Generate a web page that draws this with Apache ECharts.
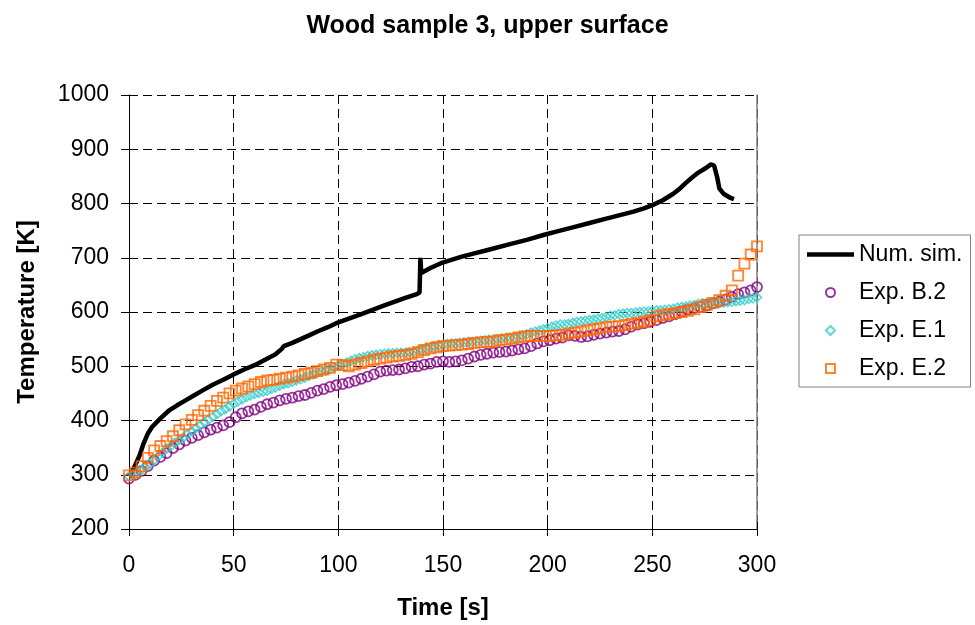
<!DOCTYPE html>
<html>
<head>
<meta charset="utf-8">
<script src="https://cdn.jsdelivr.net/npm/echarts@6/dist/echarts.min.js"></script>
<style>
  html, body { margin: 0; padding: 0; background: #fff; }
  #chart { width: 975px; height: 625px; }
</style>
</head>
<body>
<div id="chart"></div>
<script>
// tick settings
const xTicks = { min: 0, max: 300, interval: 50 };
const yTicks = { min: 200, max: 1000, interval: 100 };

const seriesNames = ['Num. sim.', 'Exp. B.2', 'Exp. E.1', 'Exp. E.2'];

// numerical simulation
const simTime = [0, 1.5, 3, 5, 7, 9, 11, 15, 19, 23, 27, 31, 35, 40, 45, 50, 55, 60, 65, 70,
  73, 74, 78, 82, 86, 90, 95, 100, 105, 111, 117, 122, 127, 132, 137.5, 138.8, 139.2, 139.6,
  144, 149, 154, 159, 165, 170, 175, 182, 190, 198, 205, 212, 220, 228, 235, 241, 246, 250,
  255, 260, 263, 266, 269, 272, 275, 278, 279.5, 281, 282, 284, 287, 289];
const simTemp = [297, 305, 318, 335, 358, 376, 388, 404, 418, 428, 437, 446, 455, 466, 475, 485, 494, 502, 512, 522,
  532, 537, 543, 550, 557, 564, 572, 581, 588, 596, 605, 612, 619, 626, 633, 636, 700, 672,
  681, 690, 696, 702, 708, 713, 718, 725, 733, 742, 749, 756, 764, 772, 779, 785, 791, 797,
  806, 818, 827, 838, 848, 857, 864, 872, 870, 848, 828, 818, 811, 808];

// experiments: sample step in seconds (from marker spacing)
const stepB2 = 3;
const stepE1 = 2;
const stepE2 = 3;

const tempB2 = [293, 300, 307, 316, 326, 333, 340, 349, 356, 363, 368, 373, 378, 383, 387, 391, 397, 406, 413, 417,
  420, 425, 430, 433, 437, 440, 442, 445, 447, 451, 455, 458, 462, 465, 467, 470, 473, 477, 481, 485,
  490, 492, 493, 494, 496, 499, 500, 503, 505, 508, 509, 508, 509, 511, 514, 518, 521, 523, 525, 526,
  527, 529, 531, 533, 537, 542, 546, 548, 551, 553, 557, 556, 554, 555, 558, 560, 562, 564, 565, 568,
  573, 577, 579, 582, 585, 589, 592, 596, 601, 605, 607, 609, 612, 616, 619, 623, 628, 633, 636, 640, 646];

const tempE1 = [297, 300, 304, 309, 314, 320, 327, 334, 341, 348, 353, 359, 364, 369, 375, 380, 386, 391, 397, 402,
  407, 412, 417, 421, 426, 431, 435, 439, 443, 446, 449, 451, 453, 455, 458, 461, 464, 467, 469, 471,
  474, 476, 479, 482, 485, 488, 490, 492, 495, 498, 501, 504, 507, 510, 513, 515, 517, 519, 520, 521,
  522, 523, 524, 524, 525, 525, 525, 526, 527, 529, 531, 533, 535, 537, 539, 540, 541, 542, 542, 543,
  544, 545, 545, 546, 547, 548, 549, 549, 550, 551, 552, 552, 553, 555, 557, 559, 562, 564, 566, 568,
  570, 573, 575, 577, 577, 578, 580, 582, 583, 584, 585, 586, 588, 589, 591, 593, 594, 596, 597, 598,
  598, 599, 600, 601, 601, 602, 603, 603, 604, 605, 606, 608, 609, 610, 612, 613, 615, 616, 617, 617,
  617, 617, 617, 618, 619, 620, 621, 622, 624, 625, 627];

const tempE2 = [299, 304, 316, 331, 345, 353, 362, 371, 382, 393, 401, 410, 418, 427, 436, 442, 450, 455, 459, 463,
  467, 471, 474, 475, 477, 479, 481, 483, 486, 488, 491, 494, 497, 503, 502, 500, 503, 506, 509, 512,
  514, 516, 518, 519, 521, 523, 526, 530, 533, 535, 537, 538, 539, 540, 541, 543, 544, 545, 546, 548,
  549, 551, 553, 555, 556, 556, 556, 556, 557, 558, 560, 562, 564, 566, 568, 570, 572, 573, 574, 576,
  578, 580, 582, 585, 592, 594, 596, 598, 600, 602, 605, 609, 613, 617, 622, 630, 640, 667, 689, 706, 721];

const pairs = (xs, ys) => ys.map((v, i) => [xs[i], v]);
const stepped = (step, ys) => ys.map((v, i) => [i * step, v]);

const font = "'Liberation Sans', Arial, sans-serif";

const hiddenAxisBits = {
  axisLabel: { show: false },
  splitLine: { show: false }
};

const option = {
  animation: false,
  backgroundColor: '#fff',
  textStyle: { fontFamily: font, color: '#000' },
  title: {
    text: 'Wood sample 3, upper surface',
    left: 'center',
    top: 9,
    textStyle: { fontFamily: font, fontSize: 25, fontWeight: 'bold', color: '#000' }
  },
  grid: { left: 129, right: 218, top: 95, bottom: 96 },
  legend: {
    orient: 'vertical',
    left: 799,
    top: 235,
    padding: [8, 8, 7, 8],
    itemGap: 15,
    itemWidth: 47,
    itemHeight: 9,
    itemTextGap: 5,
    symbolKeepAspect: true,
    borderColor: '#808080',
    borderWidth: 1,
    borderRadius: 0,
    textStyle: { fontFamily: font, fontSize: 23, color: '#000' },
    data: [
      { name: seriesNames[0], icon: 'path://M0,0L47,0L47,4.5L0,4.5Z',
        itemStyle: { color: '#000', borderWidth: 0 } },
      { name: seriesNames[1], icon: 'circle' },
      { name: seriesNames[2], icon: 'path://M5,0L10,5L5,10L0,5Z' },
      { name: seriesNames[3], icon: 'path://M0,0L10,0L10,10L0,10Z' }
    ]
  },
  xAxis: [
    {
      type: 'value',
      ...xTicks,
      name: 'Time [s]',
      nameLocation: 'middle',
      nameGap: 67,
      nameTextStyle: { fontFamily: font, fontSize: 24, fontWeight: 'bold', color: '#000' },
      axisLine: { show: true, onZero: false, lineStyle: { color: '#000', width: 1 } },
      axisTick: { show: true, inside: false, length: 7, lineStyle: { color: '#000' } },
      axisLabel: { fontFamily: font, fontSize: 23, color: '#000', margin: 25 },
      splitLine: { show: true, lineStyle: { color: '#000', width: 1, type: [9, 5] } }
    },
    {
      type: 'value',
      ...xTicks,
      position: 'bottom',
      axisLine: { show: false },
      axisTick: { show: true, inside: true, length: 7, lineStyle: { color: '#000' } },
      ...hiddenAxisBits
    }
  ],
  yAxis: [
    {
      type: 'value',
      ...yTicks,
      name: 'Temperature [K]',
      nameLocation: 'middle',
      nameGap: 90,
      nameTextStyle: { fontFamily: font, fontSize: 24, fontWeight: 'bold', color: '#000' },
      axisLine: { show: true, lineStyle: { color: '#000', width: 1 } },
      axisTick: { show: true, inside: false, length: 8, lineStyle: { color: '#000' } },
      axisLabel: { fontFamily: font, fontSize: 23, color: '#000', margin: 20, formatter: v => String(v) },
      splitLine: { show: true, lineStyle: { color: '#000', width: 1, type: [9, 5] } }
    },
    {
      type: 'value',
      ...yTicks,
      position: 'left',
      offset: 0,
      axisLine: { show: false },
      axisTick: { show: true, inside: true, length: 8, lineStyle: { color: '#000' } },
      ...hiddenAxisBits
    },
    {
      type: 'value',
      ...yTicks,
      position: 'right',
      offset: 0,
      axisLine: { show: true, lineStyle: { color: '#808080', width: 1.5 } },
      axisTick: { show: false },
      ...hiddenAxisBits
    }
  ],
  series: [
    {
      name: seriesNames[0],
      type: 'line',
      data: pairs(simTime, simTemp),
      symbol: 'none',
      showSymbol: false,
      lineStyle: { color: '#000', width: 4.5 },
      itemStyle: { color: '#000' },
      z: 2
    },
    {
      name: seriesNames[1],
      type: 'scatter',
      data: stepped(stepB2, tempB2),
      symbol: 'circle',
      symbolSize: 10,
      itemStyle: { color: 'rgba(0,0,0,0)', borderColor: '#800080', borderWidth: 1.8 },
      z: 3
    },
    {
      name: seriesNames[2],
      type: 'scatter',
      data: stepped(stepE1, tempE1),
      symbol: 'diamond',
      symbolSize: 9,
      itemStyle: { color: 'rgba(0,0,0,0)', borderColor: '#33CCCC', borderWidth: 1.5 },
      z: 3
    },
    {
      name: seriesNames[3],
      type: 'scatter',
      data: stepped(stepE2, tempE2),
      symbol: 'rect',
      symbolSize: 10,
      itemStyle: { color: 'rgba(0,0,0,0)', borderColor: '#FF6600', borderWidth: 1.8 },
      z: 3
    }
  ]
};

const chart = echarts.init(document.getElementById('chart'));
chart.setOption(option);
</script>
</body>
</html>
